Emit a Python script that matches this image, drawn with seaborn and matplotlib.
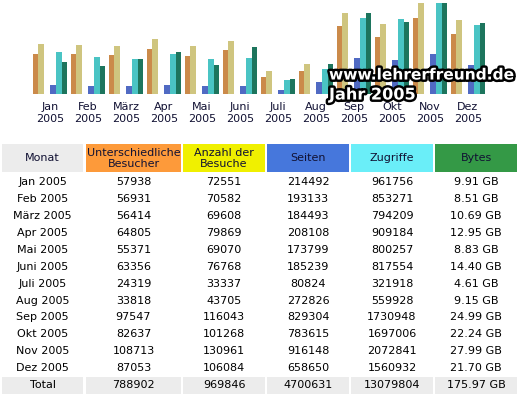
import numpy as np
import pandas as pd
import matplotlib
matplotlib.use("Agg")
import matplotlib.pyplot as plt
import matplotlib.patheffects as pe
from matplotlib.colors import LinearSegmentedColormap, to_rgba
from matplotlib.patches import Rectangle
import seaborn as sns

# data (AWStats monthly summary, lehrerfreund.de 2005)
months = ["Jan", "Feb", "März", "Apr", "Mai", "Juni", "Juli", "Aug", "Sep", "Okt", "Nov", "Dez"]
year = "2005"
visitors = [57938, 56931, 56414, 64805, 55371, 63356, 24319, 33818, 97547, 82637, 108713, 87053]
visits = [72551, 70582, 69608, 79869, 69070, 76768, 33337, 43705, 116043, 101268, 130961, 106084]
pages = [214492, 193133, 184493, 208108, 173799, 185239, 80824, 272826, 829304, 783615, 916148, 658650]
hits = [961756, 853271, 794209, 909184, 800257, 817554, 321918, 559928, 1730948, 1697006, 2072841, 1560932]
bytes_gb = [9.91, 8.51, 10.69, 12.95, 8.83, 14.40, 4.61, 9.15, 24.99, 22.24, 27.99, 21.70]

headers = ["Monat", "Unterschiedliche\nBesucher", "Anzahl der\nBesuche", "Seiten", "Zugriffe", "Bytes"]
header_colors = ["#ececec", "#fd9a3a", "#f0f000", "#4677dc", "#6aeef8", "#349946"]

W, H = 520, 397
def fx(x):
    return x / W
def fy(y):
    return 1 - y / H

fig = plt.figure(figsize=(5.2, 3.97), dpi=100)
fig.patch.set_facecolor("white")

# awstats scales visitors/visits together, pages/hits together, bytes alone
norm = {
    "visitors": np.array(visitors) / max(visits),
    "visits": np.array(visits) / max(visits),
    "pages": np.array(pages) / max(hits),
    "hits": np.array(hits) / max(hits),
    "bytes": np.array(bytes_gb) / max(bytes_gb),
}
rows = []
for key, vals in norm.items():
    for m, v in zip(months, vals):
        rows.append({"month": m, "series": key, "value": v})
df = pd.DataFrame(rows)

hue_order = ["visitors", "visits", "gap", "pages", "hits", "bytes"]
palette = {"visitors": "#e08a34", "visits": "#dccf72", "gap": "white",
           "pages": "#3d5fd6", "hits": "#36d8d8", "bytes": "#0e8464"}
shades = {
    "visitors": ["#d07424", "#f8bc6c", "#e8943e", "#8a4810", "#d98030"],
    "visits": ["#c8b854", "#f6eeaa", "#e0d47a", "#9c9034", "#c4b650"],
    "pages": ["#3450cc", "#7c94f8", "#4866e0", "#1e32a0", "#2c44bc"],
    "hits": ["#1cc0c0", "#96f6f6", "#40e0e0", "#0c9494", "#1cb8b8"],
    "bytes": ["#0a7656", "#2cae88", "#12906c", "#044c36", "#096a4e"],
}
cmaps = {k: LinearSegmentedColormap.from_list(k, v) for k, v in shades.items()}

ax = fig.add_axes([fx(31), fy(94), 456 / W, 91 / H])
sns.barplot(data=df, x="month", y="value", hue="series", hue_order=hue_order,
            order=months, palette=palette, width=0.92, dodge=True, errorbar=None,
            linewidth=0, legend=False, ax=ax)

# shaded "3d" look on each bar
grad = np.linspace(0, 1, 64).reshape(1, -1)
for p in list(ax.patches):
    fc = p.get_facecolor()
    key = None
    for k in shades:
        if np.allclose(fc[:3], to_rgba(palette[k])[:3], atol=0.01):
            key = k
    h = p.get_height()
    if key is None or not np.isfinite(h) or h <= 0:
        continue
    x0 = p.get_x()
    ax.imshow(grad, cmap=cmaps[key], extent=[x0, x0 + p.get_width(), 0, h],
              aspect="auto", zorder=3)

ax.set_xlim(-0.5, 11.5)
ax.set_ylim(0, 1)
ax.set_xticks(range(len(months)))
ax.set_xticklabels([f"{m}\n{year}" for m in months], fontsize=8, color="#111133",
                   linespacing=1.25)
ax.tick_params(axis="x", length=0, pad=6)
ax.set_yticks([])
ax.set_xlabel("")
ax.set_ylabel("")
ax.patch.set_visible(False)
for s in ax.spines.values():
    s.set_visible(False)

# watermark
outline = [pe.withStroke(linewidth=3.5, foreground="black")]
fig.text(fx(329), fy(75), "www.lehrerfreund.de", fontsize=11.1, fontweight="bold",
         color="white", ha="left", va="center", path_effects=outline)
fig.text(fx(329), fy(95), "Jahr 2005", fontsize=11.6, fontweight="bold",
         color="white", ha="left", va="center", path_effects=outline)

# table
cols = [(2, 83), (86, 181), (183, 265), (267, 349), (351, 433), (435, 517)]
for (x0, x1), col, label in zip(cols, header_colors, headers):
    fig.add_artist(Rectangle((fx(x0), fy(172)), (x1 - x0) / W, 28 / H,
                             transform=fig.transFigure, facecolor=col, edgecolor="none"))
    fig.text(fx((x0 + x1) / 2), fy(158.5), label, ha="center", va="center",
             fontsize=8, linespacing=1.15, color="#111133")

row_y0, row_dy = 182.3, 16.9
for i, m in enumerate(months):
    y = fy(row_y0 + i * row_dy)
    cells = [f"{m} {year}", str(visitors[i]), str(visits[i]), str(pages[i]),
             str(hits[i]), f"{bytes_gb[i]:.2f} GB"]
    for (x0, x1), txt in zip(cols, cells):
        fig.text(fx((x0 + x1) / 2), y, txt, ha="center", va="center", fontsize=8, color="black")

totals = ["Total", str(sum(visitors)), str(sum(visits)), str(sum(pages)),
          str(sum(hits)), f"{sum(bytes_gb):.2f} GB"]
for (x0, x1), txt in zip(cols, totals):
    fig.add_artist(Rectangle((fx(x0), fy(394)), (x1 - x0) / W, 17 / H,
                             transform=fig.transFigure, facecolor="#ececec", edgecolor="none"))
    fig.text(fx((x0 + x1) / 2), fy(385.5), txt, ha="center", va="center", fontsize=8, color="black")

fig.savefig("out.png", dpi=100)
